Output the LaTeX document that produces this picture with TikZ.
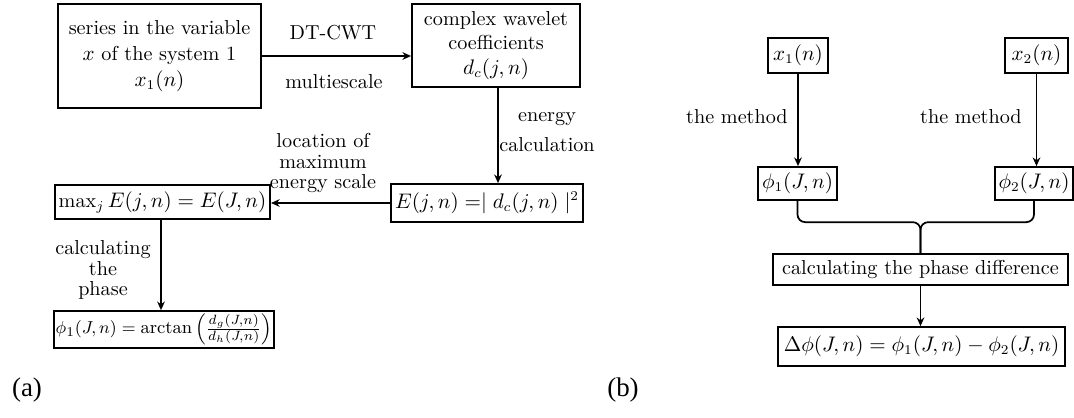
\documentclass[tikz,border=0pt]{standalone}
\usepackage{fontspec}
\newfontfamily\capfont{Liberation Serif}
\usepackage{amsmath}
\usetikzlibrary{arrows.meta, calc, positioning}

\begin{document}
\begin{tikzpicture}[x=0.52pt, y=-0.52pt, font=\fontsize{10.5}{12.6}\selectfont,
    procbox/.style={draw=black, line width=0.9pt, align=center, inner sep=2pt},
    note/.style={align=center, inner sep=1pt},
    flow/.style={-{Stealth[length=4.5pt, width=4pt]}, line width=0.9pt, black},
    brace/.style={line width=0.9pt, black, rounded corners=4pt},
    panel/.style={font=\capfont\fontsize{14}{16}\selectfont}]

\useasboundingbox (0,0) rectangle (1074,418);

%
\node[procbox, minimum width=105.6pt, minimum height=54pt] (S1) at (159.5,56)
    {series in the variable\\[1pt] $x$ of the system 1\\[1pt] $x_1(n)$};
\node[procbox, minimum width=87.4pt, minimum height=43.2pt] (W) at (496,45.5)
    {complex wavelet\\ coefficients\\ $d_c(j,n)$};
\node[procbox, minimum width=98.8pt, minimum height=19.8pt] (E) at (487,203)
    {$E(j,n) = \mid d_c(j,n) \mid^2$};
\node[procbox, minimum width=110.8pt, minimum height=17.7pt] (M) at (162.5,202)
    {$\max_j E(j,n) = E(J,n)$};
\node[procbox, minimum width=109.2pt, minimum height=19.2pt, inner sep=1pt,
    font=\fontsize{9.4}{11}\selectfont] (P) at (164,329.5)
    {$\phi_1(J,n) = \arctan\left(\frac{d_g(J,n)}{d_h(J,n)}\right)$};

\node[note] (lDT)  at (333,33)  {DT-CWT};
\node[note] (lMS)  at (334,82)  {multiescale};
\node[note] (lEn)  at (547,132) {energy\\[3pt] calculation};
\node[note] (lLoc) at (323,163) {location of\\[-2pt] maximum\\[-2pt] energy scale};
\node[note] (lPh)  at (103,270) {calculating\\[-2pt] the\\[-2pt] phase};

\draw[flow] (S1.east) -- (S1.east -| W.west);
\draw[flow] (W.south) ++(2,0) -- ($(W.south |- E.north)+(2,0)$);
\draw[flow] (E.west) -- (E.west -| M.east);
\draw[flow] (M.south) ++(-1.5,0) -- ($(M.south |- P.north)+(-1.5,0)$);

%
\node[procbox, minimum width=31.2pt, minimum height=18.2pt] (X1) at (798,55.5) {$x_1(n)$};
\node[procbox, minimum width=32.8pt, minimum height=18.2pt] (X2) at (1036.5,55.5) {$x_2(n)$};
\node[procbox, minimum width=41.1pt, minimum height=17.2pt] (F1) at (797.5,183.5) {$\phi_1(J,n)$};
\node[procbox, minimum width=40pt, minimum height=17.2pt] (F2) at (1034,183.5) {$\phi_2(J,n)$};
\node[procbox, minimum width=153.4pt, minimum height=16.1pt] (C) at (920.5,269.5)
    {calculating the phase difference};
\node[procbox, minimum width=149.2pt, minimum height=20.3pt] (R) at (921.5,346.5)
    {$\Delta\phi(J,n) = \phi_1(J,n) - \phi_2(J,n)$};

\node[note, anchor=east] (lM1) at (790,117) {the method};
\node[note, anchor=east] (lM2) at (1024,117) {the method};

\draw[flow] (X1.south) -- (X1.south |- F1.north);
\draw[flow] (X2.south) -- (X2.south |- F2.north);
\coordinate (J) at ($(C.north)+(0,-31)$);
\draw[brace] (F1.south) |- (J) -- (C.north);
\draw[brace] (F2.south) |- (J) -- (C.north);
\draw[flow] (C.south) -- (C.south |- R.north);

%
\node[panel] (capA) at (27,390) {(a)};
\node[panel] (capB) at (623,390) {(b)};
\end{tikzpicture}
\end{document}
